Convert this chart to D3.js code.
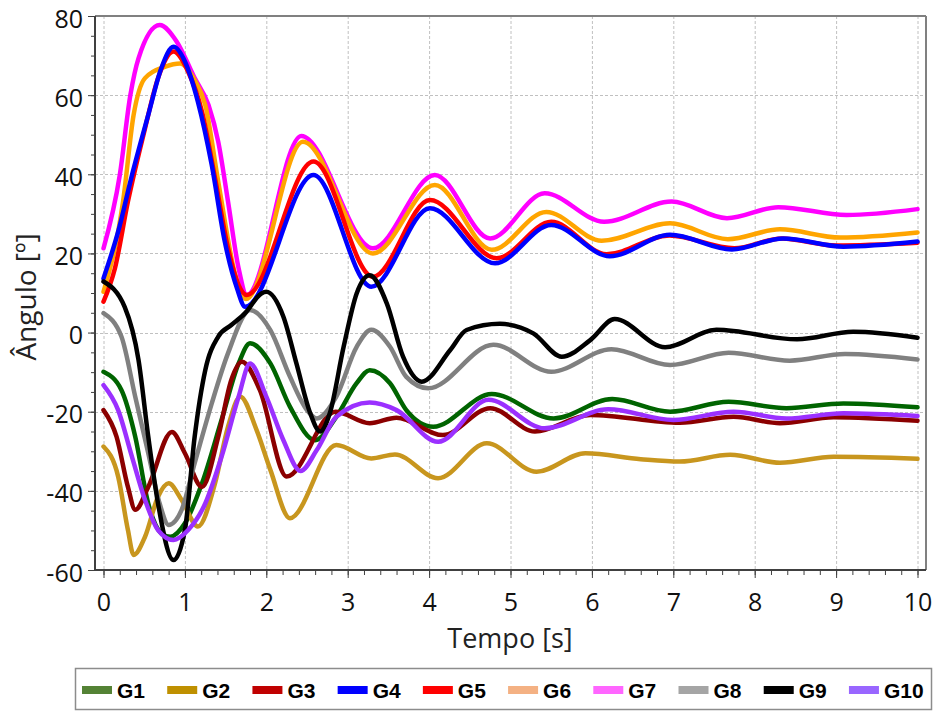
<!DOCTYPE html>
<html><head><meta charset="utf-8">
<script src="https://cdn.jsdelivr.net/npm/d3@7"></script>
<style>body{margin:0;background:#fff} svg{display:block}</style>
</head><body><svg id="c" width="937" height="711"></svg>
<script>
// ---------------- data ----------------
const seriesNames = ["G1","G2","G3","G4","G5","G6","G7","G8","G9","G10"];
const lineColors = ["#006400","#C8961E","#8B0000","#0000FF","#FF0000","#FFA500","#FF00FF","#808080","#000000","#9B30FF"];
const legendColors = ["#548235","#BF9000","#C00000","#0000FF","#FF0000","#F4B183","#FF66FF","#A5A5A5","#000000","#9966FF"];
const xTicks = [0,1,2,3,4,5,6,7,8,9,10];
const yTicks = [-60,-40,-20,0,20,40,60,80];

const g1 = [[0,-9.9],[0.22,-14.5],[0.39,-26.3],[0.55,-43.2],[0.71,-50.7],[0.82,-51.6],[1.0,-48.2],[1.21,-38.1],[1.45,-22.1],[1.66,-7.8],[1.8,-2.7],[2.05,-7.8],[2.29,-18.7],[2.6,-27.2],[2.86,-21.3],[3.11,-12.8],[3.27,-9.5],[3.52,-12.8],[3.72,-19.6],[4.05,-23.8],[4.77,-15.5],[5.53,-21.7],[6.25,-16.8],[6.96,-20],[7.68,-17.5],[8.39,-19.1],[9.09,-17.9],[10,-18.9]];
const g2 = [[0,-28.8],[0.18,-36.4],[0.3,-49.9],[0.37,-56.2],[0.51,-51.6],[0.67,-41.5],[0.8,-38.1],[0.96,-42.3],[1.16,-49],[1.37,-38.1],[1.53,-23.8],[1.68,-16.2],[1.88,-24.6],[2.05,-34.7],[2.29,-46.9],[2.86,-28.4],[3.29,-31.8],[3.58,-30.8],[4.11,-36.8],[4.71,-28],[5.32,-35.2],[5.92,-30.5],[6.6,-32],[7.08,-32.6],[7.7,-30.9],[8.31,-32.9],[8.97,-31.4],[10,-31.9]];
const g3 = [[0,-19.6],[0.16,-26.3],[0.3,-39],[0.39,-44.8],[0.55,-39],[0.84,-25.1],[1.0,-30.5],[1.21,-39],[1.41,-26.3],[1.57,-12],[1.7,-7.4],[1.92,-14.5],[2.25,-36.4],[2.85,-20],[3.27,-22.9],[3.6,-21.5],[4.17,-25.9],[4.75,-19.1],[5.3,-25],[5.98,-20.8],[7.08,-22.8],[7.74,-21.3],[8.31,-22.9],[8.97,-21.4],[10,-22.3]];
const g4 = [[0,13.7],[0.18,25.5],[0.35,39.8],[0.55,55],[0.71,66.8],[0.86,72.2],[1.0,68.5],[1.16,58.3],[1.33,42.3],[1.49,23],[1.64,11.2],[1.74,6.5],[2.58,39.8],[3.29,11.6],[4.01,31.4],[4.81,17.5],[5.5,27.2],[6.22,19.3],[6.96,24.7],[7.72,21],[8.35,23.8],[9.09,21.7],[10,23]];
const g5 = [[0,7.8],[0.14,16.2],[0.3,33.1],[0.51,51.6],[0.67,64.3],[0.86,71],[1.04,65.9],[1.21,55.8],[1.37,39],[1.53,21.3],[1.66,12],[1.76,9.5],[2.58,43.2],[3.31,14.1],[4.01,33.5],[4.83,18.8],[5.5,28],[6.18,19.8],[6.95,24.5],[7.75,21.3],[8.33,23.8],[9.0,22],[10,22.7]];
const g6 = [[0,10.3],[0.24,33.1],[0.37,55],[0.51,64.3],[0.76,67.2],[0.94,68],[1.12,63.8],[1.25,57.5],[1.41,38.1],[1.62,14.5],[1.75,8.5],[2.45,48.2],[3.31,20],[4.07,37.3],[4.77,20.9],[5.44,30.5],[6.12,23.2],[6.96,27.6],[7.67,23.6],[8.31,26.1],[9.05,24],[10,25.3]];
const g7 = [[0,21.3],[0.2,39.8],[0.33,60],[0.43,69.3],[0.69,77.7],[0.9,73.5],[1.12,64.3],[1.29,57.5],[1.41,48.2],[1.53,33.1],[1.66,16.2],[1.76,9.5],[2.43,49.7],[3.31,21.3],[4.07,39.8],[4.75,23.8],[5.42,35.2],[6.15,28],[6.98,33.1],[7.66,28.9],[8.29,31.7],[9.13,29.7],[10,31.2]];
const g8 = [[0,4.9],[0.22,-1],[0.39,-16.2],[0.55,-30.5],[0.69,-43.2],[0.8,-48.6],[0.96,-44.8],[1.12,-33],[1.33,-17.9],[1.53,-5.2],[1.8,5.7],[2.05,0.6],[2.29,-11.1],[2.5,-19.6],[2.62,-21.7],[2.86,-16.2],[3.11,-3.6],[3.29,0.7],[3.52,-3.6],[3.72,-11.2],[3.99,-14.1],[4.79,-3.1],[5.5,-9.9],[6.24,-4.2],[6.96,-8.2],[7.68,-5.1],[8.43,-7.1],[9.11,-5.4],[10,-6.8]];
const g9 = [[0,12.9],[0.26,6.5],[0.43,-6.9],[0.55,-26.3],[0.67,-43.2],[0.86,-57.5],[1.0,-49.9],[1.12,-26.3],[1.25,-9.5],[1.41,-1],[1.57,1.9],[1.74,4.9],[1.94,9.9],[2.0,10.3],[2.21,4],[2.37,-7.8],[2.54,-20.4],[2.66,-25],[2.78,-20.4],[2.95,-3.6],[3.11,9.9],[3.27,14.5],[3.48,7.4],[3.68,-6.1],[3.91,-12.4],[4.26,-4.4],[4.46,0.65],[4.87,2.2],[5.28,-0.2],[5.63,-6.1],[5.98,-1.9],[6.28,3.4],[6.9,-3.7],[7.53,0.7],[8.52,-1.7],[9.21,0.2],[10,-1.3]];
const g10 = [[0,-13.3],[0.18,-19.6],[0.35,-31.4],[0.51,-42.3],[0.67,-49.9],[0.86,-52.4],[1.04,-49.9],[1.25,-43.2],[1.45,-31.4],[1.66,-16.2],[1.8,-7.8],[2.0,-16.2],[2.21,-27.2],[2.42,-35],[2.62,-29.7],[2.86,-21.3],[3.27,-17.7],[3.6,-19.6],[4.11,-27.6],[4.73,-17],[5.42,-24.2],[6.2,-19.4],[7.0,-22.1],[7.74,-20],[8.39,-21.7],[9.09,-20.4],[10,-21.1]];
const seriesData = [g1,g2,g3,g4,g5,g6,g7,g8,g9,g10];
const drawOrder = [6,5,4,3,0,1,2,7,8,9];

// ---------------- layout ----------------
const svg = d3.select("#c");
const frame = {left:95, right:926, top:16, bottom:570};
const x = d3.scaleLinear().domain([0,10]).range([103.5,917.5]);
const y = d3.scaleLinear().domain([-60,80]).range([frame.bottom, frame.top]);
const FONT = "'Open Sans', 'Noto Sans', sans-serif";

// grid
const grid = svg.append("g").attr("stroke","#c0c0c0").attr("stroke-width",1).attr("stroke-dasharray","3,2");
grid.selectAll(".vg").data(xTicks).join("line")
  .attr("x1",d=>x(d)+0.5).attr("x2",d=>x(d)+0.5).attr("y1",frame.top).attr("y2",frame.bottom);
grid.selectAll(".hg").data(yTicks.filter(d=>d>-60 && d<80)).join("line")
  .attr("y1",d=>Math.round(y(d))+0.5).attr("y2",d=>Math.round(y(d))+0.5).attr("x1",frame.left).attr("x2",frame.right);

// frame top/right
svg.append("line").attr("x1",frame.left).attr("x2",frame.right).attr("y1",frame.top).attr("y2",frame.top).attr("stroke","#808080").attr("stroke-width",2);
svg.append("line").attr("x1",frame.right).attr("x2",frame.right).attr("y1",frame.top).attr("y2",frame.bottom).attr("stroke","#808080").attr("stroke-width",2);

// lines
svg.append("defs").append("clipPath").attr("id","clip").append("rect")
  .attr("x",frame.left).attr("y",frame.top).attr("width",frame.right-frame.left).attr("height",frame.bottom-frame.top);
const line = d3.line().x(d=>x(d[0])).y(d=>y(d[1])).curve(d3.curveMonotoneX);
const lg = svg.append("g").attr("clip-path","url(#clip)");
drawOrder.forEach(i=>{
  lg.append("path").attr("d",line(seriesData[i])).attr("fill","none")
    .attr("stroke",lineColors[i]).attr("stroke-width",4.5)
    .attr("stroke-linejoin","round").attr("stroke-linecap","round");
});

// y axis
const yAxisG = svg.append("g").attr("transform",`translate(${frame.left},0)`);
yAxisG.call(d3.axisLeft(y).tickValues(d3.range(-60,80.1,5)).tickSize(4).tickFormat(""));
yAxisG.call(g=>g.selectAll(".tick line").attr("stroke","#404040"));
const yMaj = svg.append("g").attr("transform",`translate(${frame.left},0)`)
  .call(d3.axisLeft(y).tickValues(yTicks).tickSize(7).tickPadding(5).tickFormat(d=>String(d)));
yMaj.selectAll(".tick line").attr("stroke","#404040");
yMaj.selectAll("text").attr("font-family",FONT).attr("font-size",25).attr("fill","#111").attr("dy","0.44em");
svg.selectAll(".domain").remove();
svg.append("line").attr("x1",frame.left).attr("x2",frame.left).attr("y1",frame.top).attr("y2",frame.bottom+1).attr("stroke","#404040").attr("stroke-width",2);

// x axis
const xMin = svg.append("g").attr("transform",`translate(0,${frame.bottom})`)
  .call(d3.axisBottom(x).tickValues(d3.range(0,10.01,0.2)).tickSize(5).tickFormat(""));
xMin.selectAll(".tick line").attr("stroke","#404040");
const xMaj = svg.append("g").attr("transform",`translate(0,${frame.bottom})`)
  .call(d3.axisBottom(x).tickValues(xTicks).tickSize(8).tickPadding(15).tickFormat(d=>String(d)));
xMaj.selectAll(".tick line").attr("stroke","#404040");
xMaj.selectAll("text").attr("font-family",FONT).attr("font-size",25).attr("fill","#111");
svg.selectAll(".domain").remove();
svg.append("line").attr("x1",frame.left-1).attr("x2",frame.right).attr("y1",frame.bottom).attr("y2",frame.bottom).attr("stroke","#404040").attr("stroke-width",2);

// axis titles
svg.append("text").attr("transform","translate(36,297) rotate(-90)").attr("text-anchor","middle")
  .attr("font-family",FONT).attr("font-size",28).attr("fill","#222").text("Ângulo [º]");
svg.append("text").attr("x",510).attr("y",648).attr("text-anchor","middle")
  .attr("font-family",FONT).attr("font-size",27).attr("fill","#222").text("Tempo [s]");

// legend
svg.append("rect").attr("x",75.5).attr("y",668.5).attr("width",856).attr("height",41)
  .attr("fill","#fff").attr("stroke","#8c8c8c").attr("stroke-width",1.5);
let lx = 82;
seriesNames.forEach((n,i)=>{
  svg.append("rect").attr("x",lx).attr("y",686).attr("width",30).attr("height",8).attr("fill",legendColors[i]);
  const t = svg.append("text").attr("x",lx+35).attr("y",698).attr("font-family","'Liberation Sans', Arial, sans-serif")
    .attr("font-weight","bold").attr("font-size",21).attr("fill","#000").text(n);
  lx += 35 + t.node().getComputedTextLength() + 22.2;
});
</script></body></html>
